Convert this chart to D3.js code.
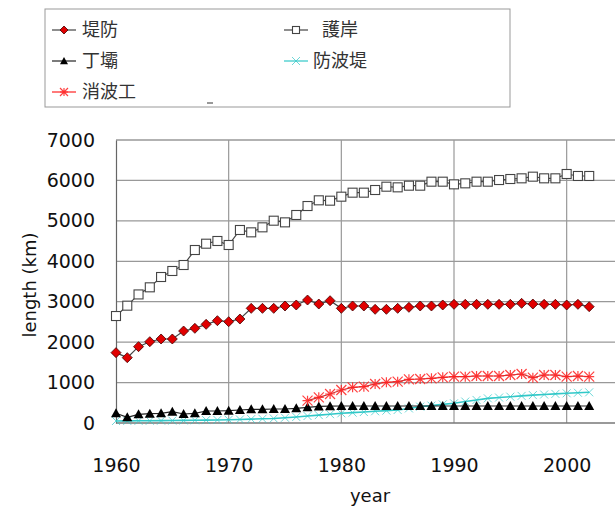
<!DOCTYPE html>
<html><head><meta charset="utf-8">
<script src="https://cdn.jsdelivr.net/npm/d3@7"></script>
<style>body{margin:0;background:#fff}svg{display:block}</style>
</head><body>
<script>
const years = d3.range(1960, 2003);
const teibou = [1740,1616,1888,2011,2078,2078,2275,2342,2441,2531,2506,2572,2836,2836,2836,2894,2919,3042,2943,3025,2836,2894,2894,2812,2812,2836,2861,2894,2894,2919,2935,2935,2935,2935,2935,2935,2960,2943,2935,2935,2919,2935,2877];
const gogan = [2646,2902,3180,3356,3611,3760,3908,4279,4435,4502,4403,4774,4716,4840,5004,4963,5145,5367,5508,5499,5598,5697,5697,5763,5845,5829,5870,5870,5969,5969,5903,5928,5969,5969,6010,6035,6052,6093,6052,6052,6159,6110,6110];
const teiha = [240,140,215,230,240,280,223,240,297,297,305,322,338,338,346,346,363,388,410,415,420,420,420,420,420,420,420,420,420,420,420,420,420,420,420,420,420,420,420,420,420,420,420];
const bouhatei = [50,52,54,56,58,60,64,68,72,76,80,88,96,104,112,130,150,173,195,218,240,256,272,290,306,322,360,404,430,460,487,530,570,610,630,651,670,690,705,720,734,748,759];
const shouhaYears = d3.range(1977, 2003);
const shouha = [552,635,717,816,882,898,965,1006,1022,1080,1088,1105,1130,1146,1146,1163,1163,1163,1187,1212,1121,1187,1187,1146,1163,1146];
const yTicks = [0,1000,2000,3000,4000,5000,6000,7000];
const xTicks = [1960,1970,1980,1990,2000];
const seriesNames = ["堤防","護岸","丁壩","防波堤","消波工"];

const W = 615, H = 509;
const FONT = "DejaVu Sans, sans-serif";
const svg = d3.select("body").append("svg").attr("width", W).attr("height", H);
const x = d3.scaleLinear().domain([1960, 2005]).range([116, 623]);
const y = d3.scaleLinear().domain([0, 7000]).range([423, 140]);

// gridlines
svg.append("g").selectAll("line.h").data(yTicks.filter(d => d > 0)).join("line")
  .attr("x1", 116).attr("x2", W).attr("y1", d => y(d)).attr("y2", d => y(d))
  .attr("stroke", d => d === 7000 ? "#666" : "#999").attr("stroke-width", 1.2);
svg.append("g").selectAll("line.v").data(xTicks.filter(d => d > 1960)).join("line")
  .attr("x1", d => x(d)).attr("x2", d => x(d)).attr("y1", 140).attr("y2", 423)
  .attr("stroke", "#999").attr("stroke-width", 1.2);

// axes
const yAxis = svg.append("g").attr("transform", "translate(116,0)")
  .call(d3.axisLeft(y).tickValues(yTicks).tickSize(0).tickPadding(21).tickFormat(d3.format("d")));
yAxis.select(".domain").attr("stroke", "#666").attr("stroke-width", 1.2);
const xAxis = svg.append("g").attr("transform", "translate(0,423)")
  .call(d3.axisBottom(x).tickValues(xTicks).tickSize(0).tickPadding(30).tickFormat(d3.format("d")));
xAxis.select(".domain").attr("stroke", "#777").attr("stroke-width", 1.5).attr("d", "M116,0H" + W);
svg.selectAll(".tick text").attr("font-family", FONT)
  .attr("font-size", 19).attr("fill", "#111");
xAxis.selectAll(".tick text").attr("dy", "0.35em").attr("y", 42);

svg.append("text").attr("x", 370).attr("y", 502).attr("text-anchor", "middle")
  .attr("font-family", FONT).attr("font-size", 18).attr("fill", "#111").text("year");
svg.append("text").attr("transform", "translate(36,285) rotate(-90)").attr("text-anchor", "middle")
  .attr("font-family", FONT).attr("font-size", 18).attr("fill", "#111").text("length (km)");

const line = d3.line().x(d => x(d[0])).y(d => y(d[1]));
const zip = (xs, vs) => xs.map((v, i) => [v, vs[i]]);

const plot = svg.append("g");
function drawSeries(data, stroke, markerFn, sw = 1.2) {
  plot.append("path").datum(data).attr("d", line).attr("fill", "none").attr("stroke", stroke).attr("stroke-width", sw);
  const g = plot.append("g");
  data.forEach(d => markerFn(g, x(d[0]), y(d[1])));
}
const diamond = (g, cx, cy, s = 5) => g.append("path").attr("d", `M${cx},${cy-s}L${cx+s},${cy}L${cx},${cy+s}L${cx-s},${cy}Z`)
  .attr("fill", "#e00000").attr("stroke", "#400").attr("stroke-width", 0.8);
const square = (g, cx, cy, s = 4.5) => g.append("rect").attr("x", cx - s).attr("y", cy - s).attr("width", 2*s).attr("height", 2*s)
  .attr("fill", "#fff").attr("stroke", "#444").attr("stroke-width", 1.1);
const tri = (g, cx, cy, s = 5) => g.append("path").attr("d", `M${cx},${cy-s}L${cx+s},${cy+s*0.8}L${cx-s},${cy+s*0.8}Z`).attr("fill", "#000");
const star = (g, cx, cy, s = 5, c = "#ff2020") => {
  g.append("path").attr("d", `M${cx-s},${cy-s}L${cx+s},${cy+s}M${cx-s},${cy+s}L${cx+s},${cy-s}M${cx},${cy-s}L${cx},${cy+s}M${cx-s},${cy}L${cx+s},${cy}`)
    .attr("stroke", c).attr("stroke-width", 1.2).attr("fill", "none").attr("opacity", 0.85);
};
const xmark = (g, cx, cy, s = 4, c = "#30c8c8") => {
  g.append("path").attr("d", `M${cx-s},${cy-s}L${cx+s},${cy+s}M${cx-s},${cy+s}L${cx+s},${cy-s}`)
    .attr("stroke", c).attr("stroke-width", 1).attr("fill", "none").attr("opacity", 0.7);
};

drawSeries(zip(years, bouhatei), "#30c8c8", xmark, 1.6);
drawSeries(zip(years, teiha), "#222", tri);
drawSeries(zip(shouhaYears, shouha), "#d03030", star);
drawSeries(zip(years, teibou), "#444", diamond);
drawSeries(zip(years, gogan), "#444", square);

// legend
const lg = svg.append("g");
lg.append("rect").attr("x", 45).attr("y", 9).attr("width", 465).attr("height", 98)
  .attr("fill", "#fff").attr("stroke", "#999").attr("stroke-width", 1);
const legendItems = [
  {name: seriesNames[0], lx: 52, tx: 82, ly: 30, stroke: "#444", m: diamond},
  {name: seriesNames[1], lx: 284, tx: 322, ly: 30, stroke: "#444", m: square},
  {name: seriesNames[2], lx: 52, tx: 82, ly: 61, stroke: "#222", m: tri},
  {name: seriesNames[3], lx: 284, tx: 313, ly: 61, stroke: "#30c8c8", m: xmark},
  {name: seriesNames[4], lx: 52, tx: 82, ly: 92, stroke: "#ff2020", m: star},
];
legendItems.forEach(it => {
  lg.append("line").attr("x1", it.lx).attr("x2", it.lx + 24).attr("y1", it.ly).attr("y2", it.ly)
    .attr("stroke", it.stroke).attr("stroke-width", 1.2);
  const mg = lg.append("g");
  if (it.m === diamond) diamond(mg, it.lx + 12, it.ly, 4);
  else if (it.m === square) square(mg, it.lx + 12, it.ly, 3.5);
  else if (it.m === tri) tri(mg, it.lx + 12, it.ly, 4);
  else if (it.m === xmark) xmark(mg, it.lx + 12, it.ly, 4);
  else star(mg, it.lx + 12, it.ly, 4);
  lg.append("text").attr("x", it.tx).attr("y", it.ly).attr("dy", "0.36em")
    .attr("font-family", "Noto Sans CJK JP, sans-serif").attr("font-size", 18).attr("fill", "#333").text(it.name);
});
lg.append("line").attr("x1", 207).attr("x2", 213).attr("y1", 103).attr("y2", 103).attr("stroke", "#555").attr("stroke-width", 1.2);
</script>
</body></html>
